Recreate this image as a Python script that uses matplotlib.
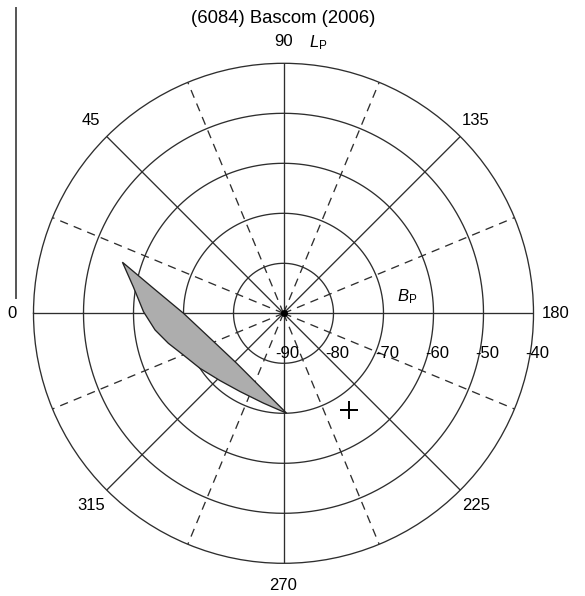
import numpy as np
import matplotlib
matplotlib.use("Agg")
import matplotlib.pyplot as plt
from matplotlib.lines import Line2D
from matplotlib.transforms import offset_copy

plt.rcParams['font.family'] = ['Liberation Sans', 'DejaVu Sans']
plt.rcParams['mathtext.fontset'] = 'custom'
plt.rcParams['mathtext.rm'] = 'Liberation Sans'
plt.rcParams['mathtext.it'] = 'Liberation Sans:italic'
plt.rcParams['lines.scale_dashes'] = False

# pole solution region, (longitude L_P, latitude B_P) in degrees
poly_L = [17.6, 10.0, 0.65, 352.6, 345.4, 337.4, 326.6, 313.3, 299.0, 282.7, 268.2,
          287.8, 313.1, 341.2, 0.0, 10.9, 17.6]
poly_B = [-56.2, -59.5, -62.0, -64.1, -66.2, -68.3, -70.0, -71.5, -72.1, -71.6, -70.0,
          -74.6, -76.3, -74.5, -70.0, -63.5, -56.2]

# single pole marked with a cross
cross_L = [235.9]
cross_B = [-66.6]

ring_B = [-80, -70, -60, -50]
rad_labels = [-90, -80, -70, -60, -50, -40]
solid_L = [0, 45, 90, 135, 180, 225, 270, 315]
dashed_L = [22.5, 67.5, 112.5, 157.5, 202.5, 247.5, 292.5, 337.5]
ang_labels = [0, 45, 90, 135, 180, 225, 270, 315]

line_col = '#2e2e2e'
lw = 0.95

fig = plt.figure(figsize=(5.85, 5.96), dpi=100)
ax = fig.add_axes([33.5 / 585, 32.7 / 596, 500 / 585, 500 / 596], projection='polar')
ax.set_theta_zero_location('W')
ax.set_theta_direction(-1)
ax.set_ylim(-90, -40)
ax.grid(False)
ax.set_xticks([])
ax.set_yticks([])
ax.spines['polar'].set_linewidth(lw)
ax.spines['polar'].set_color(line_col)

th = np.linspace(0, 2 * np.pi, 721)
for b in ring_B:
    ax.plot(th, np.full_like(th, b), color=line_col, lw=lw)

for L in solid_L:
    ax.plot([np.radians(L)] * 2, [-90, -40], color=line_col, lw=lw)
for L in dashed_L:
    ax.plot([np.radians(L)] * 2, [-90, -40], color=line_col, lw=lw,
            linestyle=(0, (6, 4.5)))
# dark spot where all the spokes meet
ax.plot([0], [-90], marker='o', ms=4, color='black', zorder=4)

ax.fill(np.radians(poly_L), poly_B, facecolor='#adadad', edgecolor='#222222',
        lw=lw, zorder=3)

ax.plot(np.radians(cross_L), cross_B, marker='+', color='black', ms=12.5, mew=1.4,
        linestyle='none', zorder=4)

for L in ang_labels:
    ax.text(np.radians(L), -35.6, str(L), ha='center', va='center', fontsize=12)

tr = offset_copy(ax.transData, fig=fig, x=3, y=-29, units='points')
for b in rad_labels:
    ax.text(np.radians(180), b, str(b), ha='center', va='center', fontsize=12,
            transform=tr, zorder=5)

fig.text(318 / 585, 1 - 43 / 596, r'$L_\mathrm{P}$', ha='center', va='center', fontsize=12)
fig.text(407 / 585, 1 - 297 / 596, r'$B_\mathrm{P}$', ha='center', va='center', fontsize=12)

fig.text(283.5 / 585, 1 - 18.5 / 596, '(6084) Bascom (2006)', ha='center', va='center',
         fontsize=13.3)

fig.add_artist(Line2D([16 / 585, 16 / 585], [1 - 8 / 596, 1 - 298 / 596],
                      color='#555555', lw=1.4))

fig.savefig('out.png', dpi=100)
